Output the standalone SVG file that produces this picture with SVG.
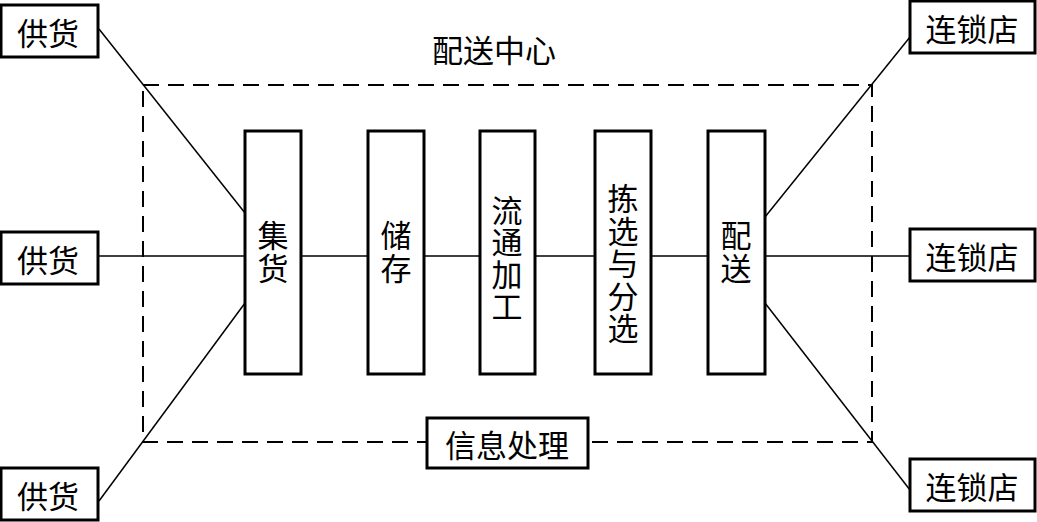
<svg xmlns="http://www.w3.org/2000/svg" width="1037" height="522" viewBox="0 0 1037 522">
<style>
.box{fill:#fff;stroke:#000;stroke-width:3}
.ln{fill:none;stroke:#000;stroke-width:1.5}
.dash{fill:none;stroke:#000;stroke-width:2;stroke-dasharray:16 9}
text{font-family:"Noto Sans CJK SC","Noto Sans CJK TC",sans-serif;font-size:31px;fill:#000;text-anchor:middle;dominant-baseline:central}
</style>
<rect width="1037" height="522" fill="#fff"/>
<g id="connectors">
<rect class="dash" x="143" y="85" width="729" height="357"/>
<line class="ln" x1="99" y1="29" x2="245" y2="213"/>
<line class="ln" x1="99" y1="256" x2="245" y2="256"/>
<line class="ln" x1="99" y1="501" x2="245" y2="303"/>
<line class="ln" x1="302" y1="256" x2="368" y2="256"/>
<line class="ln" x1="424" y1="256" x2="480" y2="256"/>
<line class="ln" x1="535" y1="256" x2="595" y2="256"/>
<line class="ln" x1="651" y1="256" x2="708" y2="256"/>
<line class="ln" x1="765" y1="217" x2="910" y2="37"/>
<line class="ln" x1="765" y1="256" x2="910" y2="256"/>
<line class="ln" x1="765" y1="303" x2="910" y2="490"/>
</g>
<g id="center-label"><text x="494" y="48">配送中心</text></g>
<g id="supply1"><rect class="box" x="1" y="5" width="97" height="52"/><text x="48" y="31">供货</text></g>
<g id="supply2"><rect class="box" x="1" y="232" width="97" height="52"/><text x="48" y="258">供货</text></g>
<g id="supply3"><rect class="box" x="1" y="468" width="97" height="52"/><text x="48" y="494">供货</text></g>
<g id="store1"><rect class="box" x="910" y="1" width="125" height="52"/><text x="972" y="27">连锁店</text></g>
<g id="store2"><rect class="box" x="910" y="229" width="125" height="52"/><text x="972" y="255">连锁店</text></g>
<g id="store3"><rect class="box" x="910" y="459" width="125" height="52"/><text x="972" y="485">连锁店</text></g>
<g id="collect"><rect class="box" x="245" y="131" width="56" height="243"/><text x="273"><tspan x="273" y="233">集</tspan><tspan x="273" y="266">货</tspan></text></g>
<g id="storage"><rect class="box" x="368" y="131" width="56" height="243"/><text x="396"><tspan x="396" y="233">储</tspan><tspan x="396" y="266">存</tspan></text></g>
<g id="process"><rect class="box" x="480" y="131" width="55" height="243"/><text x="507"><tspan x="507" y="208">流</tspan><tspan x="507" y="240">通</tspan><tspan x="507" y="272">加</tspan><tspan x="507" y="304">工</tspan></text></g>
<g id="sort"><rect class="box" x="595" y="131" width="56" height="243"/><text x="623"><tspan x="623" y="196">拣</tspan><tspan x="623" y="228.5">选</tspan><tspan x="623" y="261">与</tspan><tspan x="623" y="293.5">分</tspan><tspan x="623" y="326">选</tspan></text></g>
<g id="deliver"><rect class="box" x="708" y="131" width="57" height="243"/><text x="736"><tspan x="736" y="233">配</tspan><tspan x="736" y="266">送</tspan></text></g>
<g id="info"><rect class="box" x="427" y="418" width="161" height="50"/><text x="507" y="443">信息处理</text></g>
</svg>
